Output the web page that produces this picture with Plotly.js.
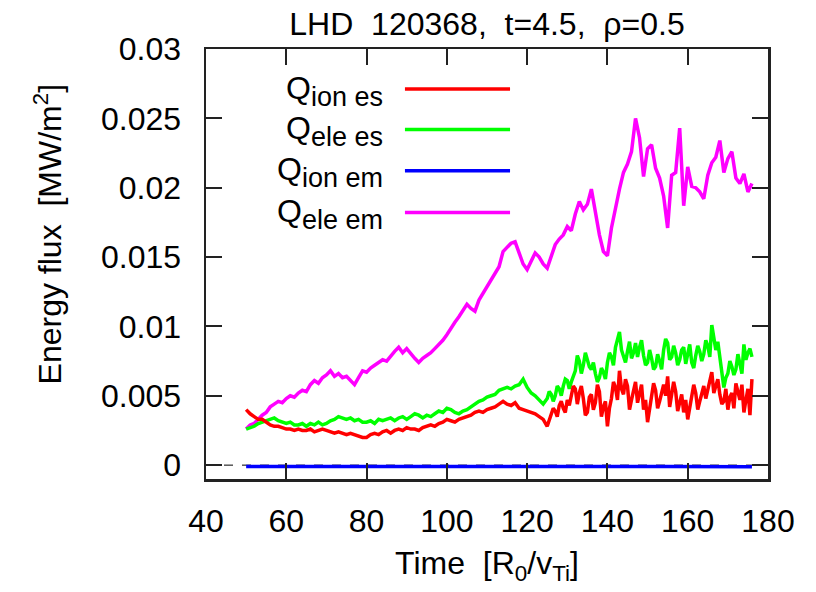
<!DOCTYPE html>
<html>
<head>
<meta charset="utf-8">
<script src="https://cdn.plot.ly/plotly-3.0.1.min.js"></script>
<style>html,body{margin:0;padding:0;background:#fff;}#chart{width:816px;height:592px;}</style>
</head>
<body>
<div id="chart"></div>
<script>
// ---- data ----
// time grid of the es fluxes: step 1 up to 124, step 0.5 from 125 to 176
const timeEs = [];
for (let t = 50; t <= 124; t++) timeEs.push(t);
for (let k = 250; k <= 352; k++) timeEs.push(k / 2);
// time grid of the em fluxes
const timeEm = [];
for (let t = 50; t <= 176; t++) timeEm.push(t);

const qIonEs = [
0.0040,0.0037,0.0035,0.0033,0.0033,0.0031,0.0029,0.0028,0.0028,0.0027,
0.0026,0.0026,0.0025,0.0026,0.0025,0.0025,0.0026,0.0024,0.0025,0.0026,
0.0025,0.0024,0.0023,0.0024,0.0023,0.0022,0.0023,0.0022,0.0021,0.0020,
0.0020,0.0022,0.0023,0.0022,0.0024,0.0025,0.0023,0.0025,0.0026,0.0025,
0.0027,0.0026,0.0026,0.0025,0.0027,0.0028,0.0029,0.0028,0.0030,0.0031,
0.0033,0.0032,0.0031,0.0033,0.0034,0.0035,0.0036,0.0038,0.0039,0.0038,
0.0040,0.0041,0.0042,0.0044,0.0046,0.0044,0.0043,0.0045,0.0041,0.0040,
0.0039,0.0038,0.0037,0.0035,0.0033,
/*125*/0.0028,0.0033, 0.0036,0.0041, 0.0039,0.0035, 0.0043,0.0046, 0.0041,0.0038,
/*130*/0.0047,0.0043, 0.0050,0.0057, 0.0055,0.0044, 0.0052,0.0057, 0.0048,0.0036,
/*135*/0.0038,0.0049, 0.0051,0.0040, 0.0045,0.0058, 0.0053,0.0035, 0.0042,0.0046,
/*140*/0.0028,0.0041, 0.0048,0.0060, 0.0056,0.0047, 0.0068,0.0055, 0.0051,0.0062,
/*145*/0.0057,0.0040, 0.0047,0.0055, 0.0060,0.0045, 0.0052,0.0058, 0.0040,0.0047,
/*150*/0.0031,0.0041, 0.0048,0.0059, 0.0054,0.0041, 0.0046,0.0052, 0.0058,0.0050,
/*155*/0.0064,0.0042, 0.0050,0.0060, 0.0053,0.0039, 0.0045,0.0051, 0.0038,0.0047,
/*160*/0.0033,0.0042, 0.0049,0.0058, 0.0052,0.0040, 0.0046,0.0052, 0.0057,0.0048,
/*165*/0.0055,0.0060, 0.0067,0.0052, 0.0058,0.0062, 0.0051,0.0044, 0.0046,0.0055,
/*170*/0.0040,0.0049, 0.0052,0.0041, 0.0059,0.0054, 0.0047,0.0058, 0.0038,0.0047,
/*175*/0.0055,0.0036, 0.0062];

const qEleEs = [
0.0026,0.0027,0.0028,0.0030,0.0031,0.0032,0.0033,0.0034,0.0032,0.0031,
0.0030,0.0031,0.0029,0.0029,0.0030,0.0028,0.0030,0.0029,0.0031,0.0029,
0.0030,0.0032,0.0033,0.0035,0.0034,0.0033,0.0034,0.0032,0.0033,0.0031,
0.0031,0.0032,0.0030,0.0033,0.0032,0.0033,0.0034,0.0032,0.0034,0.0035,
0.0033,0.0035,0.0037,0.0036,0.0034,0.0036,0.0035,0.0037,0.0039,0.0038,
0.0041,0.0040,0.0038,0.0037,0.0039,0.0040,0.0042,0.0044,0.0046,0.0047,
0.0049,0.0050,0.0051,0.0054,0.0055,0.0056,0.0055,0.0057,0.0058,0.0062,
0.0056,0.0052,0.0050,0.0047,0.0044,
/*125*/0.0048,0.0053, 0.0051,0.0046, 0.0050,0.0057, 0.0055,0.0050, 0.0057,0.0062,
/*130*/0.0061,0.0055, 0.0060,0.0064, 0.0068,0.0079, 0.0075,0.0066, 0.0072,0.0081,
/*135*/0.0076,0.0071, 0.0069,0.0074, 0.0066,0.0060, 0.0063,0.0070, 0.0067,0.0062,
/*140*/0.0074,0.0081, 0.0078,0.0072, 0.0085,0.0090, 0.0096,0.0083, 0.0079,0.0074,
/*145*/0.0082,0.0089, 0.0077,0.0081, 0.0088,0.0078, 0.0085,0.0090, 0.0079,0.0072,
/*150*/0.0074,0.0083, 0.0077,0.0069, 0.0071,0.0080, 0.0075,0.0069, 0.0083,0.0091,
/*155*/0.0088,0.0076, 0.0078,0.0086, 0.0081,0.0072, 0.0076,0.0083, 0.0085,0.0073,
/*160*/0.0080,0.0087, 0.0074,0.0070, 0.0079,0.0086, 0.0082,0.0075, 0.0080,0.0090,
/*165*/0.0086,0.0078, 0.0101,0.0092, 0.0083,0.0089, 0.0078,0.0065, 0.0056,0.0063,
/*170*/0.0066,0.0075, 0.0071,0.0065, 0.0069,0.0080, 0.0072,0.0066, 0.0087,0.0076,
/*175*/0.0081,0.0084, 0.0078];

const timeIonEm = [50,55,60,65,70,75,80,85,90,95,100,105,110,115,120,125,130,135,140,145,150,155,160,165,170,176];
const qIonEm = [-0.00010,-0.00009,-0.00010,-0.00011,-0.00010,-0.00009,-0.00010,-0.00010,-0.00011,-0.00010,
-0.00009,-0.00010,-0.00011,-0.00010,-0.00010,-0.00011,-0.00010,-0.00009,-0.00010,-0.00011,
-0.00010,-0.00010,-0.00011,-0.00010,-0.00010,-0.00011];

const qEleEm = [
0.0026,0.0029,0.0030,0.0033,0.0036,0.0038,0.0042,0.0044,0.0046,0.0045,
0.0048,0.0050,0.0049,0.0052,0.0054,0.0053,0.0058,0.0061,0.0059,0.0063,
0.0065,0.0068,0.0064,0.0066,0.0063,0.0064,0.0061,0.0058,0.0063,0.0068,
0.0067,0.0070,0.0072,0.0074,0.0076,0.0075,0.0079,0.0082,0.0085,0.0081,
0.0084,0.0080,0.0077,0.0074,0.0077,0.0079,0.0081,0.0084,0.0087,0.0090,
0.0094,0.0099,0.0103,0.0107,0.0111,0.0116,0.0113,0.0111,0.0119,0.0124,
0.0128,0.0133,0.0138,0.0143,0.0154,0.0157,0.0160,0.0161,0.0152,0.0145,
0.0141,0.0147,0.0153,0.0150,0.0145,0.0142,0.0151,0.0159,0.0163,0.0166,
0.0172,0.0169,0.0181,0.0190,0.0184,0.0188,0.0199,0.0181,0.0166,0.0154,
0.0151,0.0171,0.0186,0.0199,0.0211,0.0217,0.0226,0.0250,0.0236,0.0208,
0.0228,0.0231,0.0214,0.0207,0.0194,0.0171,0.0209,0.0211,0.0243,0.0187,
0.0215,0.0201,0.0200,0.0197,0.0192,0.0209,0.0218,0.0222,0.0234,0.0211,
0.0221,0.0226,0.0207,0.0203,0.0210,0.0197,0.0203];

const seriesNames = ['ion es', 'ele es', 'ion em', 'ele em'];
const seriesColors = ['#ff0000', '#00ff00', '#0000ff', '#ff00ff'];
const xTickVals = [40, 60, 80, 100, 120, 140, 160, 180];
const yTickVals = [0, 0.005, 0.01, 0.015, 0.02, 0.025, 0.03];
const yTickText = ['0', '0.005', '0.01', '0.015', '0.02', '0.025', '0.03'];

// ---- chart ----
const FONT = 'Liberation Sans';
const FS = 32;
const xs = [timeEs, timeEs, timeIonEm, timeEm];
const ys = [qIonEs, qEleEs, qIonEm, qEleEm];

const traces = ys.map((y, i) => ({
  x: xs[i], y: y, type: 'scatter', mode: 'lines',
  name: 'Q ' + seriesNames[i], showlegend: false,
  line: {color: seriesColors[i], width: 3.5}
}));
const order = [3, 1, 0, 2];
const data = order.map(i => traces[i]);

const annotations = [];
const shapes = [];
const rowY = [0.907, 0.813, 0.717, 0.620];
seriesNames.forEach((n, i) => {
  annotations.push({
    xref: 'paper', yref: 'paper', x: 0.318, y: rowY[i] - 0.004,
    xanchor: 'right', yanchor: 'middle', showarrow: false,
    text: 'Q<sub><span style="font-size:27px">' + n + '</span></sub>',
    font: {family: FONT, size: FS, color: '#000'}
  });
  shapes.push({
    type: 'line', xref: 'paper', yref: 'paper',
    x0: 0.354, x1: 0.541, y0: rowY[i], y1: rowY[i],
    line: {color: seriesColors[i], width: 3.5}
  });
});
annotations.push({
  xref: 'paper', yref: 'paper', x: -0.282, y: 0.57,
  xanchor: 'center', yanchor: 'middle', textangle: -90, showarrow: false,
  text: 'Energy flux\u00a0\u00a0[MW/m<sup>2</sup>]',
  font: {family: FONT, size: FS, color: '#000'}
});
shapes.push({type: 'line', xref: 'paper', yref: 'y', x0: 0, x1: 1, y0: 0, y1: 0,
  line: {color: '#000', width: 1, dash: 'dash'}, layer: 'below'});

const axisCommon = {
  showline: true, linecolor: '#222', linewidth: 2.5, mirror: 'ticks',
  ticks: 'inside', ticklen: 16, tickwidth: 2, tickcolor: '#222',
  showgrid: false, zeroline: false,
  tickfont: {family: FONT, size: FS, color: '#000'}
};

const layout = {
  width: 816, height: 592,
  margin: {l: 206, r: 48, t: 49, b: 113},
  paper_bgcolor: '#fff', plot_bgcolor: '#fff',
  showlegend: false,
  title: {text: 'LHD\u00a0\u00a0120368,\u00a0\u00a0t=4.5,\u00a0\u00a0\u03c1=0.5',
    font: {family: FONT, size: FS, color: '#000'},
    xref: 'paper', x: 0.5, xanchor: 'center', y: 0.96, yanchor: 'middle'},
  xaxis: Object.assign({}, axisCommon, {
    range: [40, 180], tickvals: xTickVals, ticklabelstandoff: 12,
    title: {text: 'Time\u00a0\u00a0[R<sub>0</sub>/v<sub>Ti</sub>]', font: {family: FONT, size: FS, color: '#000'}, standoff: 14}
  }),
  yaxis: Object.assign({}, axisCommon, {
    range: [-0.001, 0.03], tickvals: yTickVals, ticktext: yTickText, ticklabelstandoff: 16
  }),
  annotations: annotations,
  shapes: shapes
};

Plotly.newPlot('chart', data, layout, {staticPlot: true, displayModeBar: false});
</script>
</body>
</html>
